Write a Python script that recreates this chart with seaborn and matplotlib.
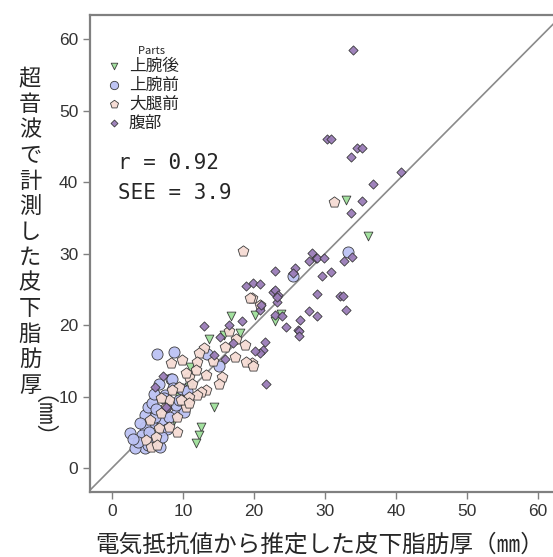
import numpy as np
import matplotlib
matplotlib.use("Agg")
import matplotlib.pyplot as plt
import seaborn as sns
import pandas as pd

# data (x = electrical estimate, y = ultrasound), in mm
parts = ["上腕後", "上腕前", "大腿前", "腹部"]

tri_x = [33.0, 36.0, 20.1, 23.8, 23.0, 16.8, 13.6, 15.8, 18.0, 10.8, 14.4, 12.6, 12.3, 11.8, 8.0, 8.7, 9.5, 11.0]
tri_y = [37.5, 32.4, 21.4, 21.5, 20.6, 21.3, 18.0, 18.6, 18.9, 11.3, 8.5, 5.7, 4.6, 3.5, 12.4, 6.7, 10.0, 14.2]

cir_x = [6.4, 8.7, 33.2, 25.5, 13.4, 15.1, 8.3, 8.4, 2.6, 4.6, 5.0, 5.7, 7.5, 9.0, 10.1, 6.9, 3.9, 4.6,
         5.0, 6.2, 3.2, 5.5, 7.1, 8.0, 9.0, 9.4, 6.1, 4.6, 6.2, 7.8, 4.2, 5.3, 6.8, 3.6, 7.3, 5.9, 8.6,
         4.0, 6.6, 9.8, 5.2, 7.0, 3.0, 10.5]
cir_y = [15.9, 16.2, 30.2, 26.9, 15.9, 14.3, 12.4, 12.4, 4.9, 7.4, 8.5, 9.1, 10.2, 7.6, 7.8, 5.3, 3.9, 2.8,
         3.2, 3.5, 2.8, 6.3, 6.7, 7.1, 8.8, 9.5, 7.1, 5.7, 8.2, 5.5, 4.6, 4.2, 3.0, 3.6, 9.8, 10.4, 11.2,
         6.3, 11.8, 11.0, 5.0, 4.4, 4.0, 10.8]

pen_x = [31.3, 19.7, 20.9, 19.7, 18.4, 19.5, 18.7, 15.9, 17.3, 18.8, 19.8, 15.5, 15.1, 12.9, 12.2, 11.9,
         11.8, 10.8, 10.4, 13.2, 13.3, 12.6, 11.9, 10.8, 10.4, 9.1, 9.1, 7.6, 6.9, 6.6, 8.0, 6.2, 4.8,
         5.5, 6.4, 8.3, 9.8, 9.4, 8.4, 8.0, 6.9, 5.3, 9.7, 10.8, 14.2, 16.5, 17.5, 11.2]
pen_y = [37.2, 23.8, 22.8, 14.7, 30.3, 23.8, 17.2, 16.9, 15.5, 14.8, 14.3, 12.7, 11.7, 16.8, 16.1, 14.8,
         13.7, 12.7, 13.3, 13.0, 10.9, 10.6, 10.2, 9.9, 8.5, 5.0, 7.1, 8.5, 7.7, 5.6, 5.7, 4.3, 3.9,
         2.9, 3.2, 14.7, 15.1, 11.3, 10.9, 9.5, 9.8, 6.7, 9.5, 9.1, 15.0, 19.2, 18.0, 11.8]

dia_x = [33.9, 30.3, 30.9, 34.5, 35.2, 33.6, 40.7, 36.7, 35.2, 33.6, 28.1, 27.8, 28.7, 28.9, 29.9, 33.8,
         32.7, 25.8, 25.5, 23.0, 29.5, 30.9, 19.8, 20.9, 22.6, 23.0, 23.4, 23.3, 23.3, 28.9, 32.1, 32.5,
         27.7, 28.9, 33.0, 23.0, 26.5, 24.5, 26.2, 26.3, 26.3, 21.6, 21.3, 20.9, 20.1, 20.8, 18.8, 21.0,
         12.9, 16.5, 18.3, 24.0, 17.0, 15.9, 21.7, 7.2, 6.0, 7.8, 7.6, 15.2, 14.4]
dia_y = [58.5, 46.1, 46.1, 44.8, 44.8, 43.5, 41.4, 39.7, 37.3, 35.7, 30.1, 29.0, 29.4, 29.4, 29.4, 29.5,
         29.0, 28.0, 27.3, 27.6, 26.9, 27.4, 25.9, 25.8, 24.6, 24.9, 24.2, 23.2, 24.0, 24.3, 24.1, 24.1,
         22.0, 21.3, 22.1, 21.4, 20.7, 19.7, 19.3, 19.2, 18.5, 17.6, 16.5, 16.1, 16.4, 22.1, 25.5, 22.8,
         19.9, 20.0, 20.6, 21.3, 17.5, 15.2, 11.7, 12.9, 11.3, 8.4, 8.5, 18.3, 15.8]

r_text = "r = 0.92"
see_text = "SEE = 3.9"

df = pd.concat([
    pd.DataFrame({"x": tri_x, "y": tri_y, "part": parts[0]}),
    pd.DataFrame({"x": cir_x, "y": cir_y, "part": parts[1]}),
    pd.DataFrame({"x": pen_x, "y": pen_y, "part": parts[2]}),
    pd.DataFrame({"x": dia_x, "y": dia_y, "part": parts[3]}),
], ignore_index=True)

sns.set_style("ticks")
plt.rcParams["font.family"] = ["Noto Sans CJK JP", "DejaVu Sans"]

styles = {
    "上腕後": dict(marker="v", color="#9ee09a", s=40),
    "上腕前": dict(marker="o", color="#bcc2f4", s=64),
    "大腿前": dict(marker="p", color="#f6dcd4", s=66),
    "腹部": dict(marker="D", color="#9a7cb8", s=22),
}

fig = plt.figure(figsize=(5.53, 5.57), dpi=100)
ax = fig.add_axes([90 / 553, 65 / 557, 463 / 553, 477 / 557])

ax.plot([-10, 80], [-10, 80], color="#8a8a8a", lw=1.2, zorder=1)
for p in parts:
    st = styles[p]
    sns.scatterplot(data=df[df["part"] == p], x="x", y="y", marker=st["marker"], color=st["color"],
                    s=st["s"], edgecolor="#333333", linewidth=0.6, alpha=0.95, label=p, ax=ax, zorder=3)

ax.set_xlim(-3.1, 62.1)
ax.set_ylim(-3.36, 63.4)
ax.set_xticks(range(0, 61, 10))
ax.set_yticks(range(0, 61, 10))
ax.set_xlabel("")
ax.set_ylabel("")
for side in ["left", "bottom", "top"]:
    ax.spines[side].set_color("#808080")
    ax.spines[side].set_linewidth(1.6)
ax.spines["right"].set_visible(False)
ax.tick_params(colors="#808080", labelcolor="#333333", labelsize=12.5, length=5, width=1)
for lab in ax.get_xticklabels() + ax.get_yticklabels():
    lab.set_family("Liberation Sans")

leg = ax.legend(title="        Parts", loc="upper left", bbox_to_anchor=(0.005, 0.96), frameon=False,
                fontsize=12, title_fontsize=8, handletextpad=0.3, labelspacing=0.12,
                handlelength=1.2, borderaxespad=0.3, markerscale=0.75)

fig.text(118 / 553, 1 - 163 / 557, r_text, fontsize=15, va="center", ha="left",
         family="DejaVu Sans Mono")
fig.text(118 / 553, 1 - 193 / 557, see_text, fontsize=15, va="center", ha="left",
         family="DejaVu Sans Mono")

# x label
fig.text(320 / 553, 1 - 545 / 557, "電気抵抗値から推定した皮下脂肪厚（㎜）", fontsize=17,
         ha="center", va="center")
# y label, stacked vertically
ylab = "超音波で計測した皮下脂肪厚"
for i, ch in enumerate(ylab):
    fig.text(30 / 553, 1 - (79 + i * 25.5) / 557, ch, fontsize=16, ha="center", va="center")
fig.text(30 / 553, 1 - 428 / 557, "（㎜）", fontsize=16, ha="center", va="center", rotation=-90)

fig.savefig("out.png", dpi=100)
